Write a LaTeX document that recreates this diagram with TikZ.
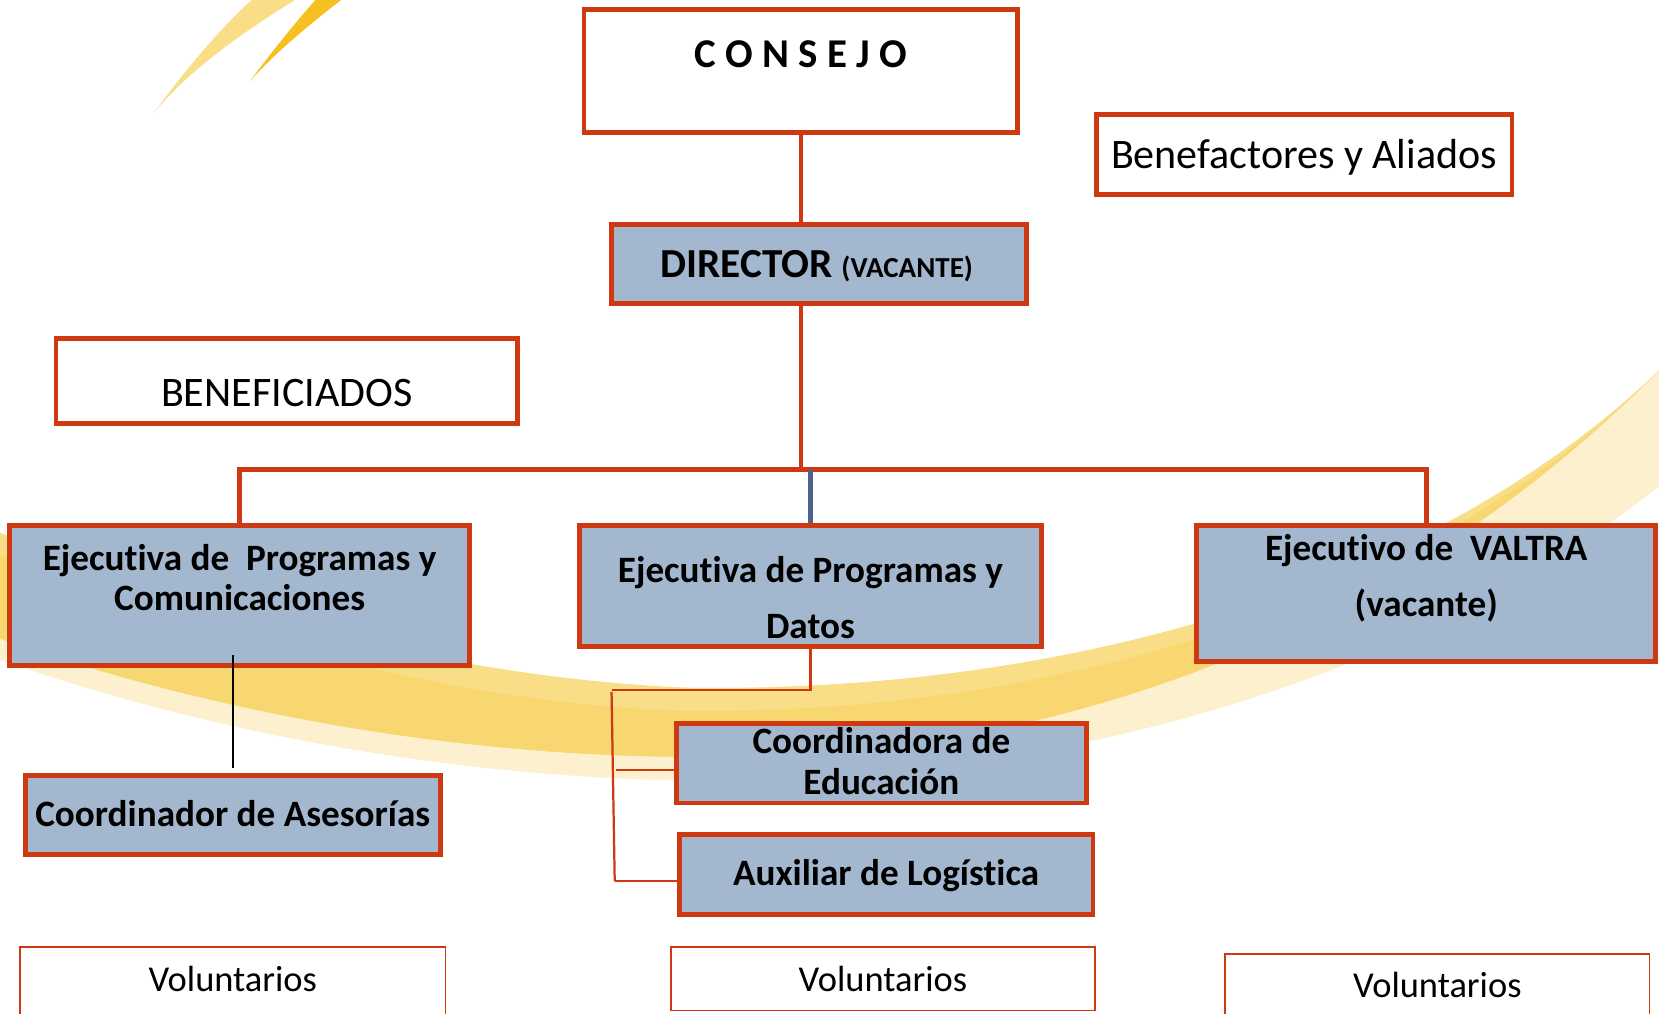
\documentclass[tikz,border=0pt]{standalone}
\usepackage{fontspec}
\setmainfont{Carlito}[Ligatures=NoCommon]
\definecolor{boxred}{RGB}{206,57,17}
\definecolor{boxblue}{RGB}{163,184,206}
\definecolor{midblue}{RGB}{79,98,138}
\definecolor{swcream}{RGB}{253,240,206}
\definecolor{swlight}{RGB}{250,221,135}
\definecolor{swmid}{RGB}{248,214,112}
\definecolor{swdark}{RGB}{245,192,32}

\begin{document}
\begin{tikzpicture}[
    redbox/.style={draw=boxred, line width=1.3pt, fill=white, inner sep=0pt},
    bluebox/.style={redbox, fill=boxblue},
    volbox/.style={draw=boxred, line width=0.5pt, fill=white, inner sep=0pt},
    bold/.style={font=\bfseries\fontsize{10}{10.8}\selectfont, align=center, anchor=base},
    plain/.style={font=\fontsize{11.3}{13}\selectfont, anchor=base},
    thickline/.style={draw=boxred, line width=1.3pt},
    thinline/.style={draw=boxred, line width=0.6pt}
]
\useasboundingbox (0,0) rectangle (15.68,-9.58);
\begin{scope}
\clip (0,0) rectangle (15.68,-9.58);
% background swooshes
\fill[swlight] (1.45,-1.07) .. controls (1.8,-0.6) and (2.1,-0.25) .. (2.40,0.02)
    -- (2.82,0.02) .. controls (2.3,-0.3) and (1.8,-0.65) .. (1.45,-1.07);
\fill[swdark] (2.36,-0.77) .. controls (2.6,-0.45) and (2.8,-0.2) .. (3.00,0.02)
    -- (3.25,0.02) .. controls (2.9,-0.25) and (2.6,-0.5) .. (2.36,-0.77);
\fill[swcream] (15.68,-3.5) .. controls (13.5,-5.6) and (10,-6.55) .. (6.5,-6.5)
    .. controls (4,-6.4) and (1.5,-5.6) .. (-0.1,-5.0)
    -- (-0.1,-6.2) .. controls (2,-6.95) and (4.5,-7.4) .. (7,-7.38)
    .. controls (10.5,-7.3) and (13.5,-6.3) .. (15.68,-4.6) -- cycle;
\fill[swlight] (15.68,-3.5) .. controls (13.5,-5.6) and (10,-6.55) .. (6.5,-6.5)
    .. controls (4,-6.4) and (1.5,-5.6) .. (-0.1,-5.0)
    -- (-0.1,-6.0) .. controls (2,-6.75) and (4.5,-7.2) .. (7,-7.15)
    .. controls (10.5,-7.1) and (13.5,-5.7) .. (15.68,-3.5);
\fill[swmid] (15.68,-3.5) .. controls (13.5,-5.7) and (10,-6.75) .. (6.5,-6.72)
    .. controls (4,-6.65) and (1.5,-5.8) .. (-0.1,-5.2)
    -- (-0.1,-6.0) .. controls (2,-6.75) and (4.5,-7.2) .. (7,-7.15)
    .. controls (10.5,-7.1) and (13.5,-5.7) .. (15.68,-3.5);
\end{scope}

% boxes
\node[redbox, minimum width=4.10cm, minimum height=1.16cm] (consejo) at (7.57,-0.67) {};
\node[redbox, minimum width=3.93cm, minimum height=0.76cm] (benef) at (12.325,-1.46) {};
\node[bluebox, minimum width=3.92cm, minimum height=0.75cm] (director) at (7.74,-2.495) {};
\node[redbox, minimum width=4.36cm, minimum height=0.80cm] (benefi) at (2.71,-3.60) {};
\node[bluebox, minimum width=4.35cm, minimum height=1.32cm] (execA) at (2.265,-5.63) {};
\node[bluebox, minimum width=4.36cm, minimum height=1.14cm] (execB) at (7.66,-5.54) {};
\node[bluebox, minimum width=4.34cm, minimum height=1.28cm] (execC) at (13.48,-5.61) {};
\node[bluebox, minimum width=3.92cm, minimum height=0.75cm] (asesor) at (2.20,-7.705) {};
\node[bluebox, minimum width=3.88cm, minimum height=0.75cm] (educ) at (8.33,-7.215) {};
\node[bluebox, minimum width=3.91cm, minimum height=0.75cm] (logist) at (8.375,-8.265) {};
\node[volbox, minimum width=4.02cm, minimum height=0.70cm] (volA) at (2.20,-9.30) {};
\node[volbox, minimum width=4.01cm, minimum height=0.60cm] (volB) at (8.345,-9.25) {};
\node[volbox, minimum width=4.01cm, minimum height=0.66cm] (volC) at (13.585,-9.35) {};

% texts
\node[bold, font=\bfseries\fontsize{11}{13}\selectfont] (consejo-t) at (7.57,-0.64) {C O N S E J O};
\node[plain] (benef-t) at (12.325,-1.59) {Benefactores y Aliados};
\node[bold] (director-t) at (7.72,-2.62) {{\fontsize{11.1}{13}\selectfont DIRECTOR} {\fontsize{7.8}{9}\selectfont (VACANTE)}};
\node[plain] (benefi-t) at (2.71,-3.84) {BENEFICIADOS};
\node[bold] (execA-t) at (2.265,-5.77) {Ejecutiva de\ \ Programas y\\Comunicaciones};
\node[bold, font=\bfseries\fontsize{10}{14.8}\selectfont] (execB-t) at (7.66,-6.03) {Ejecutiva de Programas y\\Datos};
\node[bold, font=\bfseries\fontsize{10}{15.1}\selectfont] (execC-t) at (13.48,-5.83) {Ejecutivo de\ \ VALTRA\\(vacante)};
\node[bold] (asesor-t) at (2.20,-7.81) {Coordinador de Asesorías};
\node[bold, font=\bfseries\fontsize{10}{11.1}\selectfont] (educ-t) at (8.33,-7.51) {Coordinadora de\\Educación};
\node[bold] (logist-t) at (8.375,-8.37) {Auxiliar de Logística};
\node[plain, font=\fontsize{9.8}{11}\selectfont] (volA-t) at (2.20,-9.37) {Voluntarios};
\node[plain, font=\fontsize{9.8}{11}\selectfont] (volB-t) at (8.345,-9.37) {Voluntarios};
\node[plain, font=\fontsize{9.8}{11}\selectfont] (volC-t) at (13.585,-9.43) {Voluntarios};

% connectors
\coordinate (bus) at (7.57,-4.44);
\draw[thickline] (consejo.south) -- (consejo.south |- director.north);
\draw[thickline] (director.south -| bus) -- (bus);
\draw[thickline] (execA.north) -- (execA.north |- bus) -- (execC.north |- bus) -- (execC.north);
\draw[midblue, line width=1.3pt] (execB.north |- bus) -- (execB.north);
\draw[black, line width=0.5pt] ([yshift=0.05cm]asesor.north) -- ([yshift=0.12cm]asesor.north |- execA.south);
\coordinate (rail) at (5.78,-6.52);
\draw[thinline] (execB.south) -- (execB.south |- rail) -- (rail);
\draw[thinline] ([yshift=-0.02cm]rail) -- (5.81,-8.33);
\draw[thinline] (5.82,-7.28) -- (educ.west |- 5.82,-7.28);
\draw[thinline] (5.81,-8.33) -- (logist.west |- 5.81,-8.33);
\end{tikzpicture}
\end{document}
